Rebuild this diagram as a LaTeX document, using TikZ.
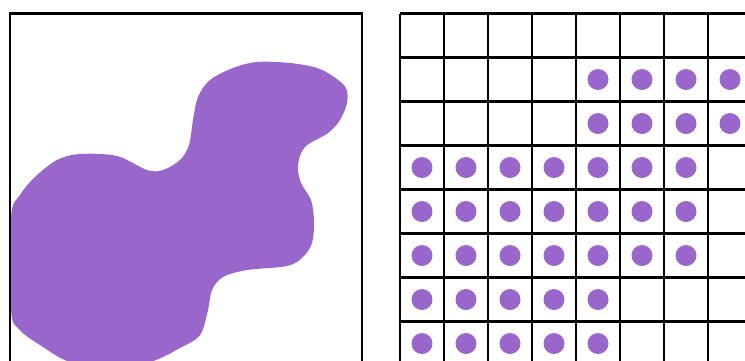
\documentclass[tikz,border=0pt]{standalone}
\usepackage{tikz}
\definecolor{blobpurple}{RGB}{153,102,204}
\tikzset{
  framebox/.style={draw=black, line width=1.3pt},
  gridline/.style={draw=black, line width=1.4pt},
  blobfill/.style={fill=blobpurple, draw=none},
  pixdot/.style={fill=blobpurple, draw=none}
}
\begin{document}
\begin{tikzpicture}[x=0.02cm, y=-0.02cm]
  \useasboundingbox (0,0) rectangle (745,360);
  \clip (0,0) rectangle (745,360);

  % continuous region
  \fill[blobfill] plot[smooth cycle, tension=0.55] coordinates {
    (11,217) (20,195) (35,177) (57,160) (80,154) (117,156) (147,170) (163,170)
    (180,160) (189,145) (193,120) (198,97) (210,80) (233,68) (257,62) (290,63)
    (317,68) (334,77) (346,88) (347,103) (340,120) (328,133) (305,147) (298,165)
    (301,183) (311,200) (314,222) (312,243) (303,257) (287,266) (247,270) (223,277)
    (212,290) (208,310) (200,335) (180,348) (150,362) (110,366) (70,362) (40,345)
    (20,330) (11,310)};
  \draw[framebox] (10,13.5) rectangle (362,400);

  % sampled grid
  \foreach \c in {0,...,8}
    \draw[gridline] (400+44*\c,13.5) -- (400+44*\c,400);
  \foreach \r in {0,...,7}
    \draw[gridline] (399.5,13.5+44*\r) -- (760,13.5+44*\r);

  % samples inside the region
  \foreach \r/\cols in {1/{4,5,6,7}, 2/{4,5,6,7}, 3/{0,...,6},
                        4/{0,...,6}, 5/{0,...,6}, 6/{0,...,4}, 7/{0,...,4}}
    \foreach \c in \cols
      \fill[pixdot] (422+44*\c,35.5+44*\r) circle[radius=0.21cm];
\end{tikzpicture}
\end{document}
